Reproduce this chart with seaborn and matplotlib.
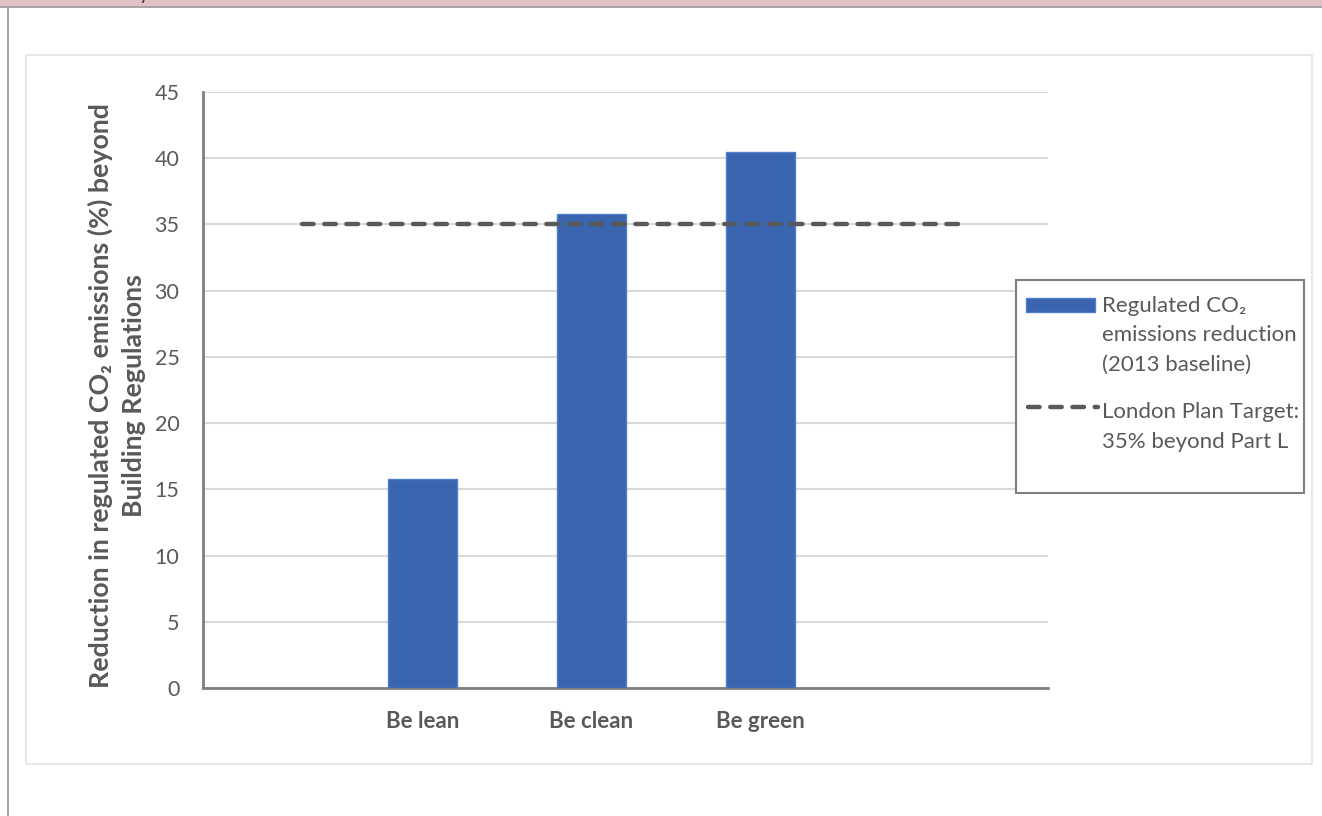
import matplotlib
matplotlib.use("Agg")
import matplotlib.pyplot as plt
import seaborn as sns
from matplotlib.patches import Rectangle
from matplotlib.lines import Line2D

# chart data
categories = ["Be lean", "Be clean", "Be green"]
reduction = [15.8, 35.8, 40.5]
target = 35
y_ticks = [0, 5, 10, 15, 20, 25, 30, 35, 40, 45]
bar_label = ["Regulated CO\u2082", "emissions reduction", "(2013 baseline)"]
target_label = ["London Plan Target:", "35% beyond Part L"]

bar_color = "#3a64ad"
bar_edge = "#4f7fd0"
text_color = "#595959"
dash_style = (0, (2.6, 2.4))

sns.set_theme(style="white")
plt.rcParams["font.family"] = ["Lato", "DejaVu Sans"]

fig = plt.figure(figsize=(13.22, 8.16), dpi=100)
W, H = 1322, 816


def fx(px):
    return px / W


def fy(py):
    return 1 - py / H


# page decorations: pink header strip, grey rules, light chart frame
fig.patches.append(Rectangle((0, fy(6)), 1, 6 / H, transform=fig.transFigure,
                             facecolor="#e2c0c3", edgecolor="none", zorder=0))
fig.patches.append(Rectangle((0, fy(8)), 1, 2 / H, transform=fig.transFigure,
                             facecolor="#a6a6a6", edgecolor="none", zorder=0))
fig.patches.append(Rectangle((fx(7), 0), 2 / W, fy(6), transform=fig.transFigure,
                             facecolor="#a6a6a6", edgecolor="none", zorder=0))
fig.patches.append(Rectangle((fx(26), fy(764)), (1312 - 26) / W, (764 - 55) / H,
                             transform=fig.transFigure, facecolor="none",
                             edgecolor="#e3e3e3", linewidth=1.2, zorder=0))
fig.text(fx(139), fy(-1), "y", fontsize=15, color="#404040", va="baseline")

ax = fig.add_axes([fx(203), fy(688), (1048 - 203) / W, (688 - 92) / H])

sns.barplot(x=categories, y=reduction, color=bar_color, width=0.41,
            edgecolor=bar_edge, linewidth=1, saturation=1, ax=ax, zorder=3)
ax.axhline(target, xmin=0.117, xmax=0.903, color=text_color, linewidth=3.2,
           linestyle=dash_style, dash_capstyle="round", zorder=4)

ax.set_xlim(-1.30, 3.703)
ax.set_ylim(0, 45)
ax.set_yticks(y_ticks)
ax.yaxis.grid(True, color="#d9d9d9", linewidth=1.5, zorder=0)
ax.set_axisbelow(True)
for side in ["top", "right"]:
    ax.spines[side].set_visible(False)
for side in ["left", "bottom"]:
    ax.spines[side].set_color("#808080")
    ax.spines[side].set_linewidth(2)
ax.tick_params(axis="both", length=0, colors=text_color, labelsize=15.5)
ax.tick_params(axis="y", pad=17)
ax.tick_params(axis="x", pad=16.5)
for lbl in ax.get_xticklabels():
    lbl.set_fontweight("bold")
    lbl.set_fontsize(16)
ax.set_xlabel("")
ax.set_ylabel("Reduction in regulated CO\u2082 emissions (%) beyond\nBuilding Regulations",
              fontsize=19.3, fontweight="bold", color=text_color, linespacing=1.45)
ax.yaxis.set_label_coords(-0.068, 0.49)

# legend box drawn by hand so the keys sit beside the first line of each label
fig.patches.append(Rectangle((fx(1016), fy(493)), (1304 - 1016) / W, (493 - 280) / H,
                             transform=fig.transFigure, facecolor="white",
                             edgecolor="#7f7f7f", linewidth=1.5, zorder=5))
fig.patches.append(Rectangle((fx(1026), fy(312)), (1095 - 1026) / W, 14 / H,
                             transform=fig.transFigure, facecolor=bar_color,
                             edgecolor=bar_edge, linewidth=1, zorder=6))
fig.lines.append(Line2D([fx(1028), fx(1098)], [fy(407), fy(407)],
                        transform=fig.transFigure, color=text_color,
                        linewidth=3.2, linestyle=dash_style,
                        dash_capstyle="round", zorder=6))
for i, line in enumerate(bar_label):
    fig.text(fx(1102), fy(312 + 29.5 * i), line, fontsize=16, color=text_color,
             va="baseline", zorder=7)
for i, line in enumerate(target_label):
    fig.text(fx(1102), fy(418 + 29.5 * i), line, fontsize=16, color=text_color,
             va="baseline", zorder=7)

fig.savefig("out.png", dpi=100, facecolor="white")
